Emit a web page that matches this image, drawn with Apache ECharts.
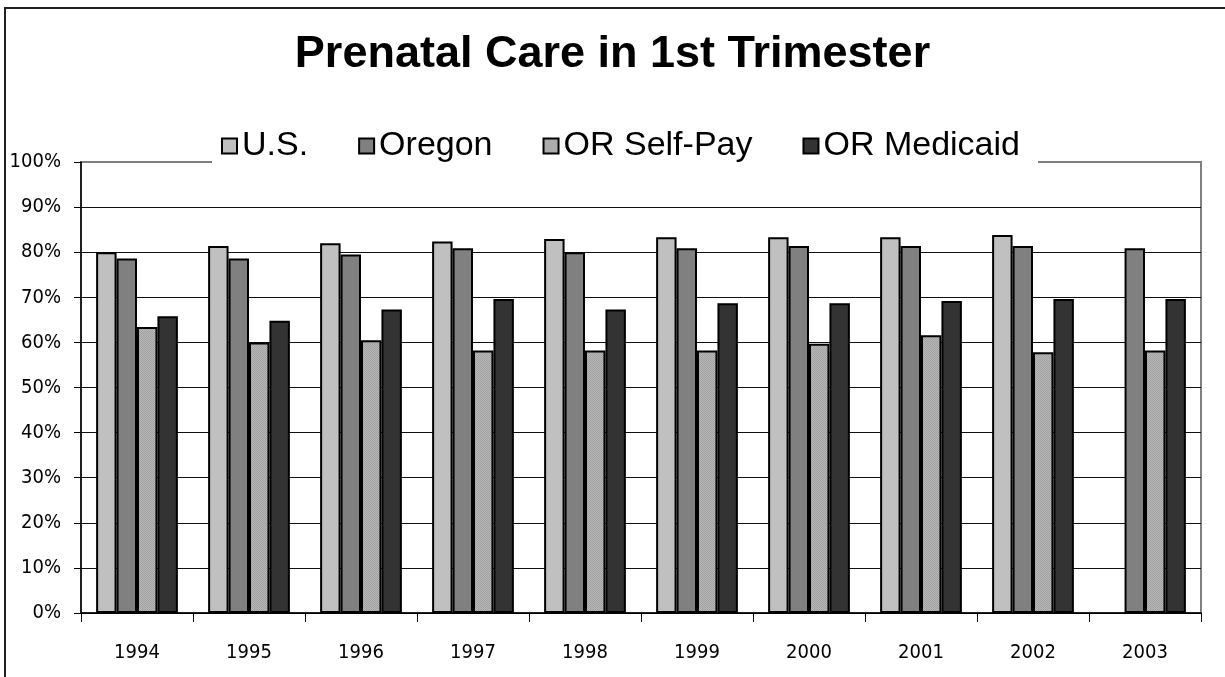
<!DOCTYPE html>
<html>
<head>
<meta charset="utf-8">
<script src="https://cdn.jsdelivr.net/npm/echarts@6/dist/echarts.min.js"></script>
<style>
  html, body { margin: 0; padding: 0; background: #fff; }
  #chart { width: 1225px; height: 677px; }
</style>
</head>
<body>
<div id="chart"></div>
<script>
  var years = ['1994', '1995', '1996', '1997', '1998', '1999', '2000', '2001', '2002', '2003'];
  var usData       = [80.0, 81.4, 82.0, 82.4, 82.9, 83.3, 83.3, 83.3, 83.8, null];
  var oregonData   = [78.6, 78.6, 79.5, 80.9, 80.0, 80.9, 81.4, 81.4, 81.4, 80.9];
  var selfPayData  = [63.4, 60.0, 60.5, 58.2, 58.2, 58.2, 59.7, 61.6, 57.8, 58.2];
  var medicaidData = [65.8, 64.8, 67.3, 69.6, 67.3, 68.7, 68.7, 69.2, 69.6, 69.6];

  // fine dotted fill for the self-pay bars
  var dots = document.createElement('canvas');
  dots.width = 2; dots.height = 2;
  var ctx = dots.getContext('2d');
  ctx.fillStyle = '#b6b6b6';
  ctx.fillRect(0, 0, 2, 2);
  ctx.fillStyle = '#a2a2a2';
  ctx.fillRect(0, 0, 1, 1);
  ctx.fillRect(1, 1, 1, 1);

  var labelFont = "'Liberation Sans Narrow', 'Arial Narrow', 'DejaVu Sans Condensed', sans-serif";
  var barBorder = { borderColor: '#000', borderWidth: 2 };

  var myChart = echarts.init(document.getElementById('chart'));
  var option = {
    backgroundColor: '#fff',
    animation: false,
    graphic: [{
      type: 'rect',
      shape: { x: 5, y: 8, width: 1240, height: 690 },
      style: { fill: 'none', stroke: '#222', lineWidth: 2 },
      z: 100
    }],
    title: {
      text: 'Prenatal Care in 1st Trimester',
      left: 'center',
      top: 27,
      textStyle: {
        fontFamily: 'Liberation Sans, Arial, sans-serif',
        fontWeight: 'bold',
        fontSize: 45,
        color: '#000'
      }
    },
    legend: {
      data: ['U.S.', 'Oregon', 'OR Self-Pay', 'OR Medicaid'],
      left: 212,
      top: 123,
      padding: [6, 18, 8, 9],
      backgroundColor: '#fff',
      icon: 'rect',
      itemWidth: 15,
      itemHeight: 15,
      itemGap: 50,
      textStyle: {
        fontFamily: 'Liberation Sans, Arial, sans-serif',
        fontSize: 34,
        color: '#000'
      }
    },
    grid: {
      left: 81,
      right: 24,
      top: 162,
      bottom: 64,
      show: true,
      borderColor: '#808080',
      borderWidth: 2
    },
    xAxis: {
      type: 'category',
      data: years,
      axisLine: { lineStyle: { color: '#000', width: 1.5 } },
      axisTick: { show: true, length: 9, lineStyle: { color: '#000' } },
      axisLabel: {
        margin: 30,
        fontFamily: labelFont,
        fontSize: 20,
        color: '#000'
      }
    },
    yAxis: {
      type: 'value',
      min: 0,
      max: 100,
      interval: 10,
      axisLine: { show: true, lineStyle: { color: '#000', width: 1.5 } },
      axisTick: { show: true, length: 7, lineStyle: { color: '#000' } },
      axisLabel: {
        formatter: '{value}%',
        margin: 20,
        fontFamily: labelFont,
        fontSize: 20,
        color: '#000'
      },
      splitLine: { show: true, showMaxLine: false, lineStyle: { color: '#111', width: 1 } }
    },
    series: [
      {
        name: 'U.S.',
        type: 'bar',
        barGap: '0%',
        barCategoryGap: '27%',
        itemStyle: Object.assign({ color: '#c0c0c0' }, barBorder),
        data: usData
      },
      {
        name: 'Oregon',
        type: 'bar',
        itemStyle: Object.assign({ color: '#808080' }, barBorder),
        data: oregonData
      },
      {
        name: 'OR Self-Pay',
        type: 'bar',
        itemStyle: Object.assign({ color: { image: dots, repeat: 'repeat' } }, barBorder),
        data: selfPayData
      },
      {
        name: 'OR Medicaid',
        type: 'bar',
        itemStyle: Object.assign({ color: '#333333' }, barBorder),
        data: medicaidData
      }
    ]
  };
  option && myChart.setOption(option);
</script>
</body>
</html>
